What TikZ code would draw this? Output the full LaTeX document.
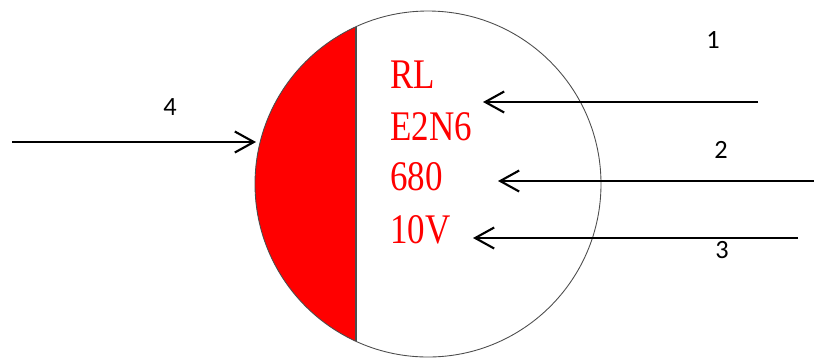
\documentclass[tikz,border=0pt]{standalone}
\usepackage{fontspec}
\setmainfont{Liberation Serif}
\newfontfamily\markfont[FakeStretch=0.83]{Liberation Serif}
\newfontfamily\labelfont{Carlito}
\usetikzlibrary{arrows.meta}

\begin{document}
\begin{tikzpicture}[x=0.02cm, y=-0.02cm]
        % styles
        \tikzstyle{marking} = [anchor=base west, inner sep=0pt, text=red, font=\markfont\fontsize{24}{24}\selectfont]
        \tikzstyle{pinlabel} = [inner sep=0pt, font=\labelfont\fontsize{15}{15}\selectfont]
        \tikzstyle{arrow} = [line width=1.2pt, -{Straight Barb[length=0.38cm, width=0.42cm, line width=1.2pt]}]

        \useasboundingbox (0,0) rectangle (814,360);

        % body of the part
        \coordinate (center) at (428,184);
        \begin{scope}
            \clip (center) circle (173);
            \fill[red] (0,0) rectangle (356,360);
        \end{scope}
        \draw[black!70, line width=0.5pt] (center) circle (173);
        \draw[black!70, line width=0.8pt] (356,27) -- (356,341);

        % printed text
        \node (rl) [marking] at (390,88) {RL};
        \node (code) [marking] at (390,140) {E2N6};
        \node (cap) [marking] at (390,190) {680};
        \node (volt) [marking] at (390,243) {10V};

        % numbers
        \node (n1) [pinlabel] at (713,40) {1};
        \node (n2) [pinlabel] at (721,150) {2};
        \node (n3) [pinlabel] at (722,250) {3};
        \node (n4) [pinlabel] at (170,107) {4};

        % arrow ends
        \coordinate (t1) at (758,102);
        \coordinate (h1) at (483,102);
        \coordinate (t2) at (814,181);
        \coordinate (h2) at (498,181);
        \coordinate (t3) at (798,238);
        \coordinate (h3) at (473,238);
        \coordinate (t4) at (12,142);
        \coordinate (h4) at (256,142);

        % arrows
        \draw [arrow] (t1) -- (h1);
        \draw [arrow] (t2) -- (h2);
        \draw [arrow] (t3) -- (h3);
        \draw [arrow] (t4) -- (h4);

    \end{tikzpicture}
\end{document}
